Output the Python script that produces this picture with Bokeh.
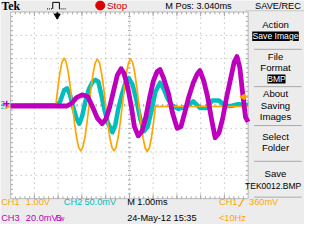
import numpy as np
from bokeh.plotting import figure
from bokeh.models import Range1d
from bokeh.embed import file_html
from bokeh.resources import INLINE
from bokeh.core.properties import value

# ---------------- data: time in ms from left edge of graticule, amplitude in divisions ----
ch1_t = [0.0,
         1.900, 1.988, 2.075, 2.163, 2.250, 2.338, 2.425, 2.513, 2.600, 2.688, 2.775, 2.863, 2.950, 3.038, 3.125, 3.213,
         3.300, 3.388, 3.475, 3.563, 3.650, 3.738, 3.825, 3.913, 4.000, 4.088, 4.175, 4.263, 4.350, 4.438, 4.525, 4.613,
         4.700, 4.788, 4.875, 4.963, 5.050, 5.138, 5.225, 5.313, 5.400, 5.488, 5.575, 5.663, 5.750, 5.838, 5.925, 6.013,
         6.100, 6.150, 10.0]
ch1_v = [0.0,
         0.0, 0.76, 1.41, 1.85, 2.02, 1.86, 1.41, 0.76, 0.0, -0.75, -1.38, -1.80, -1.95, -1.80, -1.38, -0.75,
         0.0, 0.76, 1.39, 1.83, 1.98, 1.83, 1.39, 0.76, 0.0, -0.75, -1.38, -1.80, -1.95, -1.80, -1.38, -0.75,
         0.0, 0.76, 1.39, 1.83, 1.98, 1.83, 1.39, 0.76, 0.0, -0.76, -1.40, -1.83, -1.98, -1.83, -1.40, -0.76,
         0.0, -0.05, -0.05]

ch2_t = [0.0, 1.97, 2.09, 2.25, 2.37, 2.49, 2.61, 2.77, 2.89, 3.01, 3.13, 3.29, 3.45, 3.57, 3.69, 3.81, 3.93,
         4.09, 4.29, 4.41, 4.53, 4.69, 4.85, 4.97, 5.13, 5.29, 5.45, 5.61, 5.77, 5.93, 6.09, 6.29, 6.45, 6.61,
         6.77, 7.05, 7.37, 7.69, 7.97, 8.25, 8.49, 8.77, 9.05, 9.29, 9.57, 10.0]
ch2_v = [-0.01, 0.01, 0.17, 0.65, 0.73, 0.49, 0.01, -0.55, -0.79, -0.47, 0.09, 0.69, 1.01, 1.09, 1.01, 0.49, -0.11,
         -0.75, -1.15, -0.83, -0.15, 0.49, 1.01, 1.17, 0.89, 0.25, -0.55, -1.11, -0.91, -0.23, 0.57, 0.97, 0.69, 0.29,
         0.01, -0.15, -0.07, 0.17, -0.11, -0.11, 0.21, 0.21, -0.03, -0.03, 0.05, 0.01]

ch3_t = [0.0, 1.97, 2.37, 2.57, 2.77, 3.01, 3.25, 3.45, 3.65, 3.85, 4.01, 4.17, 4.33, 4.49, 4.65, 4.77, 4.93,
         5.09, 5.21, 5.37, 5.53, 5.69, 5.85, 6.01, 6.17, 6.29, 6.45, 6.65, 6.81, 7.01, 7.17, 7.33, 7.49, 7.69,
         7.85, 7.97, 8.13, 8.29, 8.45, 8.61, 8.77, 8.93, 9.09, 9.25, 9.41, 9.53, 9.65, 9.77, 9.89, 10.0]
ch3_v = [-0.03, -0.03, -0.03, 0.09, 0.33, 0.45, 0.37, -0.07, -0.55, -0.79, -0.59, -0.07, 0.61, 1.29, 1.57, 1.37, 0.77,
         -0.11, -0.91, -1.31, -1.11, -0.51, 0.33, 1.05, 1.45, 1.53, 1.13, 0.49, -0.31, -0.99, -0.91, -0.31, 0.33, 0.97,
         1.33, 1.49, 1.05, 0.37, -0.55, -1.39, -1.19, -0.55, 0.33, 1.09, 1.85, 2.09, 1.61, 0.49, -0.51, -0.71]

ch_names = ["CH1", "CH2", "CH3"]
ch_scales = ["1.00V", "50.0mV", "20.0mV"]
ch_colors = ["#ffa500", "#00bebe", "#be00be"]
timebase = "M 1.00ms"
trig_source = "CH1"
trig_level_text = "360mV"
trig_freq = "<10Hz"
date_text = "24-May-12 15:35"
mpos_text = "M Pos: 3.040ms"
menu_title = "SAVE/REC"
menu_items = ["Action", "Save Image", "File", "Format", "BMP", "About", "Saving", "Images",
              "Select", "Folder", "Save", "TEK0012.BMP"]
trigger_pos = 1.96     # ms
trigger_level = 0.36   # divisions (360 mV at 1 V/div)

# ---------------- geometry (reference pixels -> data units) ----------------
X0, Y0, DIV = 10.7, 112.3, 25.0
W, H = 304, 224
FS = 0.94
FONT = "Liberation Sans"
BASE = 9.8


def X(px):
    return (px - X0) / DIV


def Y(py):
    return (Y0 - py) / DIV


p = figure(width=W, height=H, x_range=Range1d(X(0), X(320)), y_range=Range1d(Y(240), Y(0)),
           output_backend="svg", toolbar_location=None, min_border=0,
           x_axis_location=None, y_axis_location=None)
p.grid.visible = False
p.outline_line_color = None
p.background_fill_color = "#ececec"
p.border_fill_color = "#ececec"

GRID = "#a8a8a8"
# graticule
p.quad(left=0, right=10, bottom=-4, top=4, fill_color="white", line_color="#b8b8b8", line_width=1)
gx = list(range(1, 10))
gy = list(range(-3, 4))
p.segment(x0=gx, y0=-4, x1=gx, y1=4, line_color=GRID, line_dash="1 4", line_width=1)
p.segment(x0=0, y0=gy, x1=10, y1=gy, line_color=GRID, line_dash="1 4", line_width=1)
tt = np.round(np.arange(0.2, 10.0, 0.2), 2)
vv = np.round(np.arange(-3.8, 4.0, 0.2), 2)
p.segment(x0=tt, y0=-0.06, x1=tt, y1=0.06, line_color=GRID)
p.segment(x0=4.94, y0=vv, x1=5.06, y1=vv, line_color=GRID)
p.segment(x0=tt, y0=4, x1=tt, y1=3.9, line_color=GRID)
p.segment(x0=gx, y0=4, x1=gx, y1=3.82, line_color=GRID)
p.segment(x0=tt, y0=-4, x1=tt, y1=-3.9, line_color=GRID)
p.segment(x0=gx, y0=-4, x1=gx, y1=-3.82, line_color=GRID)
p.segment(x0=0, y0=vv, x1=0.1, y1=vv, line_color=GRID)
p.segment(x0=10, y0=vv, x1=9.9, y1=vv, line_color=GRID)

# traces
p.line(ch2_t, ch2_v, line_color=ch_colors[1], line_width=4.5, line_join="round")
p.line(ch1_t, ch1_v, line_color=ch_colors[0], line_width=1.7, line_join="round")
p.line(ch3_t, ch3_v, line_color=ch_colors[2], line_width=4.8, line_join="round")


def txt(x, y, s, color="black", size=BASE, align="left", font=FONT, style="normal"):
    p.text(x=[X(x)], y=[Y(y)], text=[s], text_color=color, text_font=value(font),
           text_font_size=f"{size * FS:.1f}px", text_align=align, text_baseline="middle",
           text_font_style=style)


# ground markers (left)
txt(0.3, 113.8, "2", color=ch_colors[1], size=8)
p.scatter([X(7)], [Y(113.5)], marker="triangle", angle=-np.pi / 2, size=5, color=ch_colors[0])
txt(0.3, 110.3, "3", color=ch_colors[2], size=8)
p.scatter([X(6.5)], [Y(110.5)], marker="cross", size=6, line_width=1.5, color=ch_colors[2])

# trigger position marker (top) and trigger level marker (right)
p.segment(x0=trigger_pos, y0=Y(12.5), x1=trigger_pos, y1=Y(14.5), line_color="black", line_width=1.5)
p.scatter([trigger_pos], [Y(16.3)], marker="inverted_triangle", size=6, color="black")
p.segment(x0=X(256), y0=trigger_level, x1=X(260.5), y1=trigger_level, line_color=ch_colors[0], line_width=1.5)
p.scatter([X(255.3)], [trigger_level], marker="triangle", angle=np.pi / 2, size=5.5, color=ch_colors[0])

# top bar
txt(1, 5.8, "Tek", size=12.5, font="Liberation Serif", style="bold")
p.line([X(49), X(55)], [Y(9), Y(9)], line_color="black", line_dash="1 1")
p.line([X(55), X(55), X(62), X(62)], [Y(9), Y(2), Y(2), Y(9)], line_color="black", line_width=1)
p.line([X(62), X(69)], [Y(9), Y(9)], line_color="black", line_dash="1 1")
p.scatter([X(105)], [Y(5.3)], marker="circle", size=9, color="#dd0000")
txt(112, 5.6, "Stop", color="#cc0000", size=10.5)
txt(173.5, 5.6, mpos_text)
txt(268, 5.6, menu_title)
p.segment(x0=X(258), y0=Y(11), x1=X(320), y1=Y(11), line_color="#c8c8c8")

# right menu
MX = 289.5
menu_y = [26, 38.3, 60, 72.3, 84.2, 100, 112.3, 124, 146, 157.7, 185, 198.3]
inverted = {"Save Image": (265, 314, 33.3, 43.3), "BMP": (281, 300, 79.3, 89)}
for lbl, yy in zip(menu_items, menu_y):
    if lbl in inverted:
        l, r, t, b = inverted[lbl]
        p.quad(left=X(l), right=X(r), top=Y(t), bottom=Y(b), fill_color="black", line_color=None)
        txt((l + r) / 2, yy, lbl, color="white", size=9.2, align="center")
    elif lbl == "TEK0012.BMP":
        txt(287, yy, lbl, size=9.0, align="center")
    else:
        txt(MX, yy, lbl, size=10.2, align="center")
sep_y = [52.3, 92.3, 134, 172.3, 210.7]
p.segment(x0=X(267), y0=[Y(s) for s in sep_y], x1=X(317), y1=[Y(s) for s in sep_y],
          line_color="#a8a8a8")

# bottom status
R1, R2 = 216.3, 232.5
txt(0.7, R1, ch_names[0], color=ch_colors[0])
txt(26.7, R1, ch_scales[0], color=ch_colors[0])
txt(66.7, R1, ch_names[1], color=ch_colors[1])
txt(88.3, R1, ch_scales[1], color=ch_colors[1])
txt(133.3, R1, timebase)
txt(230, R1, trig_source, color=ch_colors[0])
p.line([X(250), X(251.8), X(255.2), X(257)], [Y(220), Y(220), Y(213.5), Y(213.5)],
       line_color=ch_colors[0], line_width=1.2)
txt(261.7, R1, trig_level_text, color=ch_colors[0])
txt(0.7, R2, ch_names[2], color=ch_colors[2])
txt(26.7, R2, ch_scales[2], color=ch_colors[2])
txt(58.5, R2, "B", color=ch_colors[2], size=9)
txt(61.8, R2 + 1.5, "w", color=ch_colors[2], size=7.5)
txt(133.3, R2, date_text)
txt(230, R2, trig_freq, color=ch_colors[0])

open("out.html", "w").write(file_html(p, INLINE))
